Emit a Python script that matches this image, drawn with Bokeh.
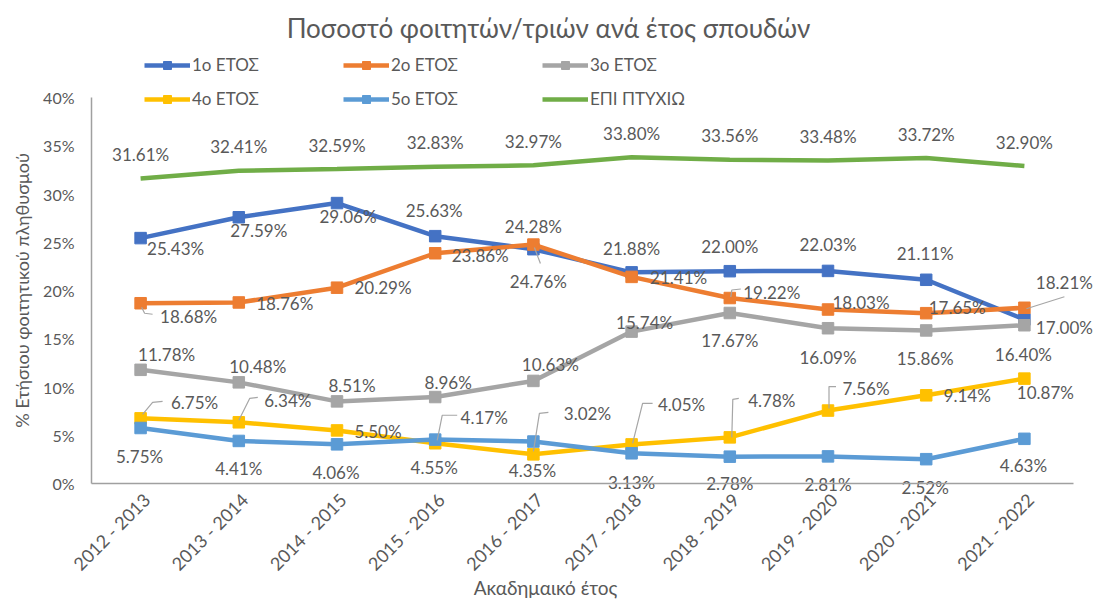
import math
from bokeh.plotting import figure
from bokeh.models import (Range1d, Label, Legend, LegendItem,
                          FixedTicker, ColumnDataSource)
from bokeh.core.properties import value
from bokeh.embed import file_html
from bokeh.resources import INLINE

# ---------------- data ----------------
years = ["2012 - 2013", "2013 - 2014", "2014 - 2015", "2015 - 2016", "2016 - 2017",
         "2017 - 2018", "2018 - 2019", "2019 - 2020", "2020 - 2021", "2021 - 2022"]
year1 = [25.43, 27.59, 29.06, 25.63, 24.28, 21.88, 22.00, 22.03, 21.11, 17.00]
year2 = [18.68, 18.76, 20.29, 23.86, 24.76, 21.41, 19.22, 18.03, 17.65, 18.21]
year3 = [11.78, 10.48, 8.51, 8.96, 10.63, 15.74, 17.67, 16.09, 15.86, 16.40]
year4 = [6.75, 6.34, 5.50, 4.17, 3.02, 4.05, 4.78, 7.56, 9.14, 10.87]
year5 = [5.75, 4.41, 4.06, 4.55, 4.35, 3.13, 2.78, 2.81, 2.52, 4.63]
post = [31.61, 32.41, 32.59, 32.83, 32.97, 33.80, 33.56, 33.48, 33.72, 32.90]
series_names = ["1ο ΕΤΟΣ", "2ο ΕΤΟΣ", "3ο ΕΤΟΣ", "4ο ΕΤΟΣ", "5ο ΕΤΟΣ", "ΕΠΙ ΠΤΥΧΙΩ"]
y_ticks = [0, 5, 10, 15, 20, 25, 30, 35, 40]
y_tick_labels = ["0%", "5%", "10%", "15%", "20%", "25%", "30%", "35%", "40%"]
title_text = "Ποσοστό φοιτητών/τριών ανά έτος σπουδών"
x_title = "Ακαδημαικό έτος"
y_title = "% Ετήσιου φοιτητικού πληθυσμού"

series_values = [year1, year2, year3, year4, year5, post]
xpos = list(range(len(years)))  # category index positions

# ---------------- styles / layout (page pixels) ----------------
colors = ["#4472C4", "#ED7D31", "#A5A5A5", "#FFC000", "#5B9BD5", "#70AD47"]
has_marker = [True, True, True, True, True, False]
TXT = "#595959"
FONT = "Lato"
Y_MAX = 40.0
CANVAS_W, CANVAS_H = 1096, 600
PLOT_L, PLOT_R = 91, 1073     # plot area (category band) on the page
PLOT_T, PLOT_B = 97, 483      # 40% and 0% lines on the page
PX_X = (PLOT_R - PLOT_L) / len(years)
PX_Y = (PLOT_B - PLOT_T) / Y_MAX
x_lo = -0.5 - PLOT_L / PX_X
x_hi = x_lo + CANVAS_W / PX_X
y_hi = Y_MAX + PLOT_T / PX_Y
y_lo = y_hi - CANVAS_H / PX_Y


def px_to_x(px):
    return x_lo + px / PX_X


def py_to_y(py):
    return y_hi - py / PX_Y


# label offsets in screen pixels (dx right, dy down) relative to each point
label_dx = [
    [35, 20, 11, -1, 0, 0, 0, 0, -1, 40],
    [48, 46, 46, 45, 5, 47, 42, 33, 31, 40],
    [26, 19, 15, 13, 17, 13, 0, 0, -1, -1],
    [54, 49, 41, 49, 54, 50, 42, 38, 41, 21],
    [-1, 0, -1, -1, -1, 0, 0, 0, -1, -1],
    [0, 0, 0, 0, 0, 0, 0, 0, 0, 0],
]
label_dy = [
    [10, 13, 13, -26, -23, -24, -25, -26, -26, 8],
    [13, 1, 0, 2, 37, 1, -6, -7, -6, -25],
    [-15, -16, -16, -15, -16, -9, 28, 29, 28, 29],
    [-16, -22, 1, -26, -41, -40, -37, -22, 0, 14],
    [28, 28, 28, 28, 29, 29, 27, 28, 28, 27],
    [-24, -24, -24, -24, -24, -24, -24, -24, -24, -24],
]
# leader lines: (series, point, polyline in pixel offsets from the point)
leaders = [
    (1, 0, [(1, 4), (4, 10), (12, 11)]),
    (1, 4, [(1, 3), (7, 19)]),
    (1, 6, [(1, -1), (2, -8), (11, -9)]),
    (1, 9, [(2, 1), (40, -11)]),
    (3, 0, [(2, -4), (12, -16), (22, -17)]),
    (3, 1, [(0, -2), (11, -24), (19, -25)]),
    (3, 3, [(2, -3), (7, -28), (22, -28)]),
    (3, 4, [(0, -3), (6, -41), (15, -42)]),
    (3, 5, [(1, -1), (11, -41), (21, -41)]),
    (3, 6, [(2, 0), (3, -38), (9, -39)]),
    (3, 7, [(1, -2), (1, -24), (8, -24)]),
]

p = figure(width=CANVAS_W, height=CANVAS_H,
           x_range=Range1d(x_lo, x_hi), y_range=Range1d(y_lo, y_hi),
           output_backend="svg", toolbar_location=None,
           min_border_left=0, min_border_right=0,
           min_border_top=0, min_border_bottom=0)
p.background_fill_color = "white"
p.border_fill_color = "white"
p.outline_line_color = None
p.xgrid.grid_line_color = None
p.ygrid.grid_line_color = None

AX_COL = "#A0A0A0"
for ax in (p.xaxis[0], p.yaxis[0]):
    ax.ticker = FixedTicker(ticks=[])
    ax.major_tick_out = 0
    ax.major_tick_in = 0
    ax.minor_tick_out = 0
    ax.minor_tick_in = 0
    ax.major_tick_line_color = None
    ax.minor_tick_line_color = None
    ax.major_label_standoff = 0
    ax.major_label_text_font_size = "0px"
    ax.axis_line_color = AX_COL
    ax.axis_line_width = 1.5
p.xaxis[0].fixed_location = 0
p.xaxis[0].bounds = (-0.5, len(years) - 0.5)
p.yaxis[0].fixed_location = -0.5
p.yaxis[0].bounds = (0, Y_MAX)

text_kw = dict(text_font=value(FONT), text_color=TXT)

# y tick labels
p.text(x=[-0.5] * len(y_ticks), y=y_ticks, text=y_tick_labels,
       x_offset=-17, text_align="right", text_baseline="middle",
       text_font_size="16px", **text_kw)
# category labels (rotated)
p.text(x=xpos, y=[0] * len(years), text=years, angle=math.pi / 4,
       x_offset=6, y_offset=13, text_align="right", text_baseline="middle",
       text_font_size="18px", **text_kw)

items = []
for k, vals in enumerate(series_values):
    rs = [p.line(xpos, vals, line_width=4.5, color=colors[k])]
    if has_marker[k]:
        rs.append(p.scatter(xpos, vals, marker="square", size=11.5, color=colors[k]))
    items.append(LegendItem(label=series_names[k], renderers=rs))

# leader lines
lx, ly = [], []
for s, i, pts in leaders:
    v = series_values[s][i]
    lx.append([i + dx / PX_X for dx, dy in pts])
    ly.append([v - dy / PX_Y for dx, dy in pts])
p.multi_line(lx, ly, line_color="#A6A6A6", line_width=1.2)

# data labels
for k, vals in enumerate(series_values):
    src = ColumnDataSource(dict(x=xpos, y=vals,
                                t=["%.2f%%" % v for v in vals],
                                dx=label_dx[k], dy=label_dy[k]))
    p.text(x="x", y="y", text="t", x_offset="dx", y_offset="dy", source=src,
           text_align="center", text_baseline="middle",
           text_font_size="17px", **text_kw)

legend = Legend(items=items, orientation="horizontal", ncols=3,
                location=(144, CANVAS_H - 109), glyph_width=46, glyph_height=20,
                label_height=20, label_width=138, label_standoff=2,
                spacing=13, padding=0, margin=0,
                border_line_color=None, background_fill_alpha=0,
                label_text_font=FONT, label_text_font_size="17px",
                label_text_color=TXT)
p.add_layout(legend)

p.add_layout(Label(x=px_to_x(548), y=py_to_y(27), text=title_text,
                   text_align="center", text_baseline="middle",
                   text_font=FONT, text_font_size="26px", text_color=TXT))
p.add_layout(Label(x=px_to_x(545), y=py_to_y(587), text=x_title,
                   text_align="center", text_baseline="middle",
                   text_font=FONT, text_font_size="19px", text_color=TXT))
p.add_layout(Label(x=px_to_x(21), y=py_to_y(290), text=y_title, angle=math.pi / 2,
                   text_align="center", text_baseline="middle",
                   text_font=FONT, text_font_size="18px", text_color=TXT))

open("out.html", "w").write(file_html(p, INLINE))
